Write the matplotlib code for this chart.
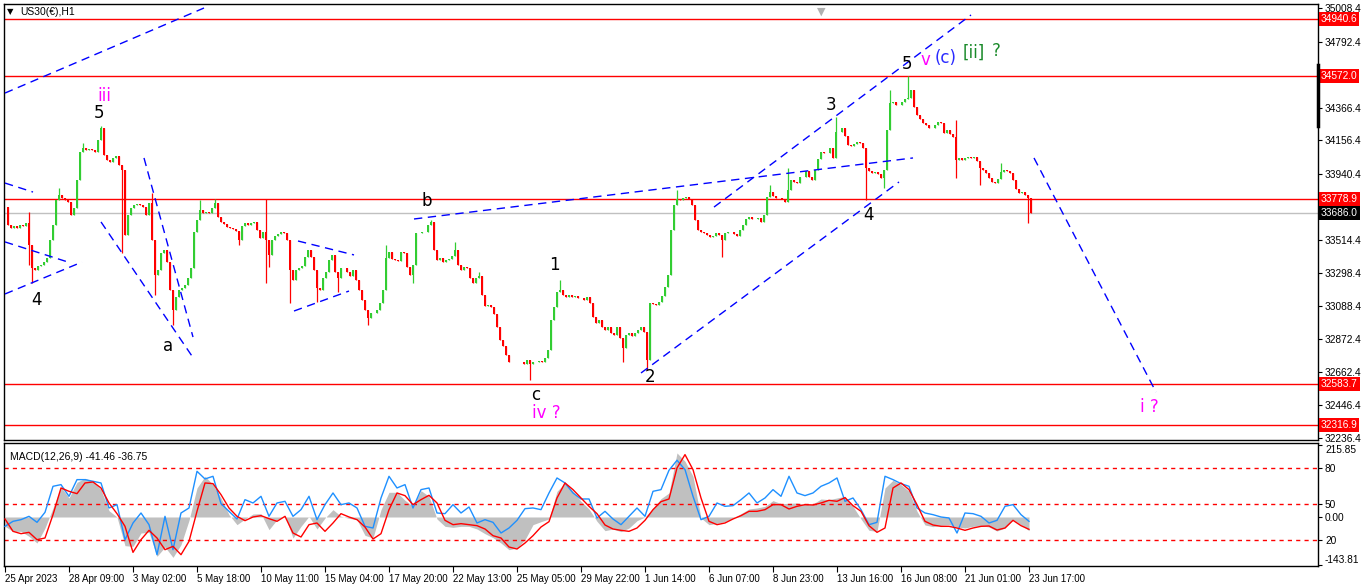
import numpy as np
import matplotlib
matplotlib.use("Agg")
import matplotlib.pyplot as plt

plt.rcParams['font.family'] = ['Liberation Sans', 'DejaVu Sans']

# hourly closes, one value every 3 bars (25 Apr - 23 Jun 2023)
closes = [
    33727, 33610, 33591, 33604, 33591, 33610, 33604, 33623, 33481, 33333,
    33320, 33346, 33352, 33372, 33397, 33514, 33610, 33772, 33804, 33785,
    33772, 33759, 33675, 33720, 33901, 34082, 34107, 34094, 34101, 34094,
    34082, 34159, 34236, 34062, 34030, 34017, 34043, 34056, 33998, 33965,
    33546, 33675, 33720, 33740, 33746, 33740, 33727, 33675, 33753, 33514,
    33288, 33320, 33430, 33449, 33372, 33191, 33062, 33146, 33191, 33204,
    33223, 33268, 33333, 33565, 33643, 33707, 33688, 33694, 33688, 33720,
    33753, 33662, 33630, 33617, 33597, 33591, 33584, 33572, 33514, 33604,
    33623, 33610, 33623, 33630, 33578, 33526, 33565, 33514, 33417, 33514,
    33539, 33552, 33565, 33559, 33514, 33320, 33255, 33320, 33333, 33346,
    33404, 33449, 33404, 33320, 33204, 33191, 33268, 33307, 33384, 33417,
    33307, 33268, 33333, 33333, 33307, 33281, 33320, 33255, 33191, 33126,
    33062, 33010, 33042, 33042, 33062, 33107, 33191, 33397, 33436, 33391,
    33384, 33378, 33436, 33430, 33339, 33288, 33352, 33559, 33559, 33565,
    33565, 33610, 33630, 33449, 33384, 33397, 33372, 33384, 33391, 33410,
    33449, 33352, 33320, 33339, 33333, 33268, 33236, 33268, 33281, 33158,
    33088, 33094, 33081, 33036, 32952, 32868, 32829, 32771, 32726, 32726,
    32726, 32726, 32726, 32713, 32739, 32713, 32726, 32726, 32733, 32726,
    32752, 32804, 32997, 33081, 33178, 33191, 33158, 33146, 33158, 33146,
    33152, 33139, 33139, 33126, 33146, 33107, 33017, 32978, 32997, 32952,
    32933, 32952, 32913, 32900, 32952, 32881, 32816, 32900, 32913, 32894,
    32913, 32933, 32952, 32920, 32739, 33107, 33100, 33094, 33113, 33152,
    33210, 33288, 33578, 33740, 33778, 33772, 33785, 33791, 33778, 33740,
    33643, 33578, 33565, 33559, 33546, 33533, 33539, 33559, 33546, 33514,
    33559, 33565, 33565, 33552, 33539, 33578, 33610, 33649, 33662, 33649,
    33649, 33656, 33630, 33675, 33791, 33823, 33797, 33785, 33785, 33778,
    33759, 33836, 33901, 33888, 33881, 33920, 33920, 33959, 33920, 33901,
    33965, 34036, 34082, 34075, 34075, 34107, 34043, 34211, 34211, 34236,
    34185, 34127, 34120, 34133, 34146, 34140, 34107, 33978, 33959, 33946,
    33952, 33939, 33914, 33965, 34223, 34398, 34404, 34385, 34385, 34404,
    34424, 34430, 34482, 34372, 34320, 34295, 34269, 34256, 34236, 34236,
    34256, 34275, 34269, 34204, 34223, 34198, 34178, 34030, 34043, 34030,
    34043, 34049, 34043, 34049, 34023, 33978, 33965, 33946, 33914, 33888,
    33881, 33907, 33952, 33965, 33959, 33946, 33901, 33843, 33817, 33823,
    33804, 33785, 33686,
]

# long wicks (bar number, price)
spike_bars = [23, 23, 28, 53, 78, 96, 118, 118, 146, 151, 168, 194, 211, 234, 260, 260,
              263, 286, 313, 332, 363, 382, 407, 426, 450, 475, 524, 554, 618, 642,
              673, 718, 766, 784, 832, 860, 878, 885, 904, 951, 951, 974, 997, 1022]
spike_prices = [33694, 33352, 33236, 33849, 34140, 34249, 33946, 33430, 33817, 33158,
                32965, 33772, 33778, 33481, 33778, 33236, 33339, 33107, 33113, 33178,
                32965, 33481, 33236, 33643, 33501, 33307, 32609, 33255, 32726, 32674,
                33836, 33404, 33868, 33978, 34307, 33772, 33849, 34482, 34572, 34288,
                33914, 33868, 34011, 33623]

# MACD(12,26,9), one value every 8 bars
macd_main = [
    -28, -43, -43, -58, -78, -33, 27, 90, 57, 104, 116, 107, 82, 19, 0, -86, -88, -48,
    -46, -118, -90, -121, -83, -10, 87, 122, 97, 57, 7, -23, -6, 9, 10, -38, -8, 4,
    -63, -28, 2, -36, -3, 22, 2, -4, -8, -55, -63, 22, 74, 74, 50, 32, 79, 62, -6,
    -28, -31, -28, -28, -36, -50, -62, -78, -98, -93,
    -68, -23, -14, -6, 77, 102, 77, 47, 24, -13, -41, -36, -44, -33, -11, 0, 26, 55,
    72, 192, 167, 122, -3, -23, -19, -14, -3, 10, 24, 27, 32, 49, 40, 41, 42, 37, 39,
    54, 52, 57, 62, 32, -6, -40, -43, 87, 110, 97, 77, 17, -24, -29, -25, -23, -30,
    -33, -28, -26, -30, -42, -33, -8, -23, -41,
]
macd_signal = [
    -6, -43, -50, -46, -68, -63, 7, 87, 77, 70, 102, 105, 87, 42, 10, -28, -106, -68,
    -40, -63, -98, -88, -113, -73, 17, 102, 100, 67, 27, 2, -11, 0, 4, -5, -13, 2,
    -48, -60, -23, -18, -43, -18, 10, 0, -8, -30, -66, -50, 22, 72, 64, 37, 52, 65,
    42, -10, -23, -20, -23, -26, -36, -56, -63, -90, -96,
    -78, -56, -30, -14, 57, 102, 82, 57, 32, 10, -24, -36, -40, -43, -33, -10, 22, 46,
    54, 147, 187, 142, 57, -13, -23, -18, -6, 4, 17, 17, 22, 37, 37, 24, 32, 37, 36,
    42, 50, 47, 58, 34, 17, -26, -46, -33, 87, 102, 82, 37, -13, -24, -28, -28, -33,
    -40, -33, -28, -27, -39, -33, -10, -26, -37,
]
macd_fast = [
    -28, -13, -8, 2, -16, 14, 92, 97, 62, 112, 112, 107, 102, 27, 37, -68, -18, 12,
    -23, -113, 2, -98, 12, 27, 137, 114, 122, 40, 17, -6, 52, 42, 62, 2, 42, 47, 2,
    22, 62, -8, 37, 72, 37, 42, 27, -28, -33, 57, 122, 87, 97, 27, 82, 87, 12, 10, 37,
    12, 30, -18, -8, -16, -48, -33, -10,
    25, 27, 22, 72, 117, 102, 72, 54, 54, -3, 17, -6, -23, 2, 27, 2, 77, 82, 140, 170,
    142, 62, -8, 2, 42, 32, 34, 52, 72, 42, 57, 82, 62, 122, 72, 64, 72, 92, 102, 117,
    47, 57, 22, -23, -16, 122, 112, 100, 92, 27, 12, 7, 0, -3, -48, 12, 10, 2, -18,
    -10, 32, 37, 7, -13,
]

date_labels = ['25 Apr 2023', '28 Apr 09:00', '3 May 02:00', '5 May 18:00', '10 May 11:00',
               '15 May 04:00', '17 May 20:00', '22 May 13:00', '25 May 05:00', '29 May 22:00',
               '1 Jun 14:00', '6 Jun 07:00', '8 Jun 23:00', '13 Jun 16:00', '16 Jun 08:00',
               '21 Jun 01:00', '23 Jun 17:00']

red_levels = [34940.6, 34572.0, 33778.9, 32583.7, 32316.9]
bid_price = 33686.0
price_ticks = [35008.4, 34792.4, 34366.4, 34156.4, 33940.4, 33514.4,
               33298.4, 33088.4, 32872.4, 32662.4, 32446.4, 32236.4]

# trendlines: (bar0, price0, bar1, price1)
trendlines = [
    (0, 34462, 199, 35011),
    (0, 33881, 28, 33823),
    (0, 33501, 66, 33365),
    (0, 33165, 77, 33371),
    (96, 33630, 189, 32745),
    (139, 34043, 188, 32887),
    (293, 33507, 349, 33417),
    (289, 33055, 344, 33184),
    (409, 33649, 908, 34043),
    (709, 33726, 966, 34966),
    (636, 32655, 894, 33888),
    (1029, 34043, 1151, 32532),
]

# wave labels: text, bar, price, colour
waves = [
    ('iii', 99, 34440, '#ff00ff'), ('5', 94, 34330, 'black'), ('4', 32, 33126, 'black'),
    ('a', 163, 32829, 'black'), ('b', 422, 33765, 'black'), ('c', 531, 32513, 'black'),
    ('iv ?', 541, 32397, '#ff00ff'), ('1', 549, 33352, 'black'), ('2', 645, 32629, 'black'),
    ('3', 826, 34385, 'black'), ('4', 863, 33675, 'black'), ('5', 902, 34649, 'black'),
    ('v', 920, 34675, '#ff00ff'), ('(c)', 941, 34688, '#2a2aff'),
    ('[ii]', 969, 34720, '#1a8a2a'), ('?', 991, 34733, '#1a8a2a'),
    ('i ?', 1144, 32435, '#ff00ff'),
]

W, H = 1366, 588
fig = plt.figure(figsize=(W / 100, H / 100), dpi=100)
ax = fig.add_axes([4 / W, 1 - 440 / H, 1314 / W, 436 / H])
mx = fig.add_axes([4 / W, 1 - 566 / H, 1314 / W, 123 / H])

# candles
c = np.array(closes, dtype=float)
bars = np.arange(len(c)) * 3
o = np.r_[c[0], c[:-1]]
hi = np.maximum(o, c)
lo = np.minimum(o, c)
for b, p in zip(spike_bars, spike_prices):
    i = min(int(round(b / 3)), len(c) - 1)
    hi[i] = max(hi[i], p)
    lo[i] = min(lo[i], p)
cols = np.where(c >= o, '#32cd32', '#ff0000')
ax.vlines(bars, lo, hi, colors=cols, lw=0.9, zorder=3)
ax.bar(bars, c - o, bottom=o, width=2.2, color=cols, linewidth=0, zorder=3)

box = dict(boxstyle='square,pad=0.2', ec='none')
for lv in red_levels:
    ax.axhline(lv, color='red', lw=1, zorder=2)
    ax.text(1.002, lv, f'{lv:.1f}', transform=ax.get_yaxis_transform(), ha='left',
            va='center', color='white', fontsize=7.3, zorder=5, bbox=dict(box, fc='red'))
ax.axhline(bid_price, color='#c0c0c0', lw=1, zorder=1)
ax.text(1.002, bid_price, f'{bid_price:.1f}', transform=ax.get_yaxis_transform(), ha='left',
        va='center', color='white', fontsize=7.3, zorder=5, bbox=dict(box, fc='black'))

for b0, p0, b1, p1 in trendlines:
    ax.plot([b0, b1], [p0, p1], color='#0000ff', lw=1, dashes=(6, 4), zorder=4)

for txt, b, p, col in waves:
    ax.text(b, p, txt, color=col, fontsize=12, ha='center', va='center', zorder=6,
            family='DejaVu Sans')

ax.set_xlim(-1, 1313)
ax.set_ylim(32222.4, 35036.8)
ax.yaxis.tick_right()
ax.set_yticks(price_ticks)
ax.set_yticklabels([f'{t:.1f}' for t in price_ticks])
ax.tick_params(axis='y', labelsize=7.3, length=3, pad=2, colors='black')
ax.set_xticks([])
for s in ax.spines.values():
    s.set_color('black')
    s.set_linewidth(1)
ax.plot([1, 1], [0.72, 0.86], transform=ax.transAxes, color='black', lw=2.5,
        clip_on=False, zorder=7)
ax.text(0.622, 0.995, '\u25bc', transform=ax.transAxes, color='#b0b0b0', fontsize=8,
        ha='center', va='top', family='DejaVu Sans')
fig.text(7 / W, 1 - 12 / H, '\u25bc', fontsize=6, ha='left', va='center', family='DejaVu Sans')
fig.text(20 / W, 1 - 12 / H, 'US30(\u20ac),H1', fontsize=7.5, ha='left', va='center')

# MACD panel
mb = np.arange(len(macd_main)) * 8
mx.fill_between(mb, 0, macd_main, color='#c0c0c0', lw=0, zorder=1)
mx.plot(np.arange(len(macd_fast)) * 8, macd_fast, color='#1e90ff', lw=1, zorder=3)
mx.plot(np.arange(len(macd_signal)) * 8, macd_signal, color='red', lw=1, zorder=4)
for lv in [147, 38, -70]:
    mx.axhline(lv, color='red', lw=1, dashes=(3, 3), zorder=2)
mx.set_xlim(-1, 1313)
mx.set_ylim(-146.9, 221.8)
mx.yaxis.tick_right()
mx.set_yticks([215.85, 147, 38, 0, -70, -143.81])
labs = mx.set_yticklabels(['215.85', '80', '50', '0.00', '20', '-143.81'])
labs[0].set_va('top')
labs[-1].set_va('bottom')
mx.tick_params(axis='y', labelsize=7.3, length=3, pad=2)
mx.set_xticks(np.arange(len(date_labels)) * 64)
xl = mx.set_xticklabels(date_labels, fontsize=7)
for t in xl:
    t.set_ha('left')
mx.tick_params(axis='x', length=4, pad=2)
for s in mx.spines.values():
    s.set_color('black')
    s.set_linewidth(1)
mx.text(6 / 1314, 0.93, 'MACD(12,26,9) -41.46 -36.75', transform=mx.transAxes,
        fontsize=7.5, ha='left', va='top')

fig.savefig('out.png', dpi=100, facecolor='white')
